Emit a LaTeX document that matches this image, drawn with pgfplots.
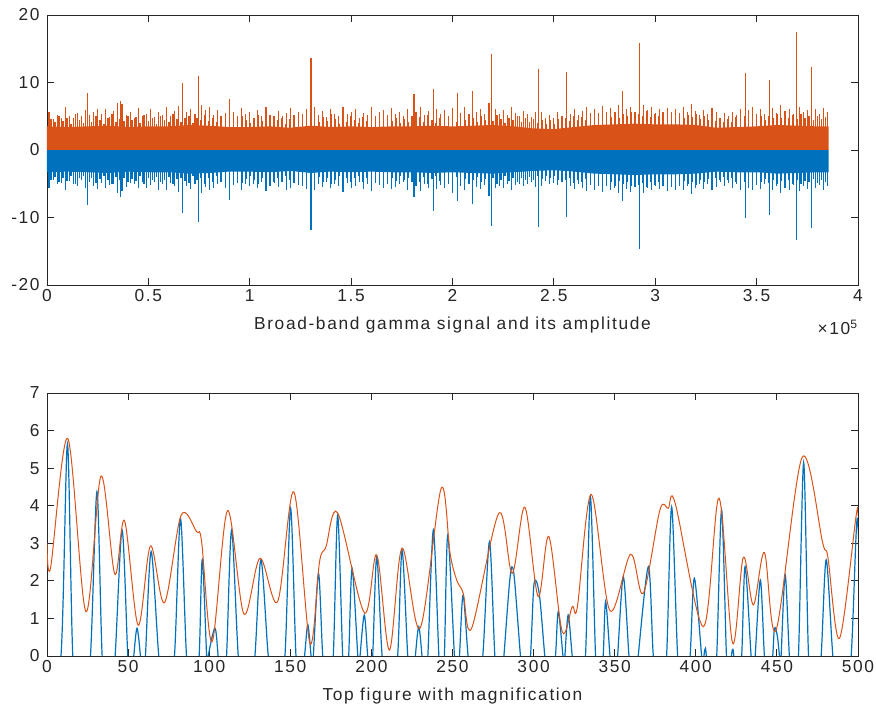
\documentclass[border=0pt]{standalone}
\usepackage{fontspec}
\setmainfont{Liberation Sans}[LetterSpace=9.5]
\usepackage{pgfplots}
\usepackage{pgfplotstable}
\pgfplotsset{compat=1.18}
\definecolor{mblue}{RGB}{0,114,189}
\definecolor{morange}{RGB}{217,83,25}
\definecolor{axgray}{RGB}{38,38,38}

% dense part of the broad-band signal (x in units of 1e5 samples)
\pgfplotstableread{
x top bot
0     3.5 -3.3
0.1   3.4 -3.2
0.2   3.5 -3.3
0.3   3.6 -3.4
0.4   3.4 -3.2
0.5   3.5 -3.3
0.6   3.5 -3.3
0.7   3.7 -3.5
0.8   3.6 -3.4
0.9   3.4 -3.2
1.0   3.4 -3.2
1.1   3.5 -3.3
1.2   3.3 -3.1
1.3   3.6 -3.4
1.4   3.4 -3.2
1.5   3.5 -3.3
1.6   3.4 -3.2
1.7   3.5 -3.3
1.8   3.5 -3.3
1.9   3.6 -3.4
2.0   3.5 -3.3
2.1   3.6 -3.4
2.2   3.7 -3.5
2.3   3.5 -3.3
2.4   3.2 -3.1
2.5   3.1 -3.0
2.6   3.4 -3.2
2.7   3.7 -3.5
2.8   3.8 -3.6
2.9   3.9 -3.7
3.0   3.8 -3.6
3.1   3.8 -3.6
3.2   3.7 -3.5
3.3   3.3 -3.2
3.4   3.4 -3.3
3.5   3.5 -3.3
3.6   3.7 -3.5
3.7   3.6 -3.4
3.8   3.5 -3.3
3.855 3.5 -3.3
}\band

% spikes of amplitude (a) and signal (s)
\pgfplotstableread{
x a s
0.01 5.7 -5.6
0.03 4.6 -4.4
0.05 5.2 -5.0
0.07 4.8 -4.9
0.09 6.4 -5.9
0.11 5.0 -4.6
0.13 4.7 -5.1
0.15 5.5 -5.3
0.17 5.0 -4.5
0.19 5.9 -5.6
0.20 8.4 -8.2
0.21 5.2 -4.8
0.23 5.6 -5.3
0.25 6.1 -5.8
0.27 5.3 -4.9
0.29 6.0 -5.6
0.31 4.9 -5.2
0.33 5.8 -5.0
0.35 6.9 -6.4
0.363 7.2 -7.0
0.37 6.8 -6.1
0.39 5.2 -5.5
0.41 5.6 -4.9
0.43 4.8 -5.1
0.45 6.2 -5.7
0.47 5.1 -4.8
0.49 5.4 -5.6
0.51 6.0 -5.2
0.53 4.9 -4.7
0.55 5.7 -5.9
0.57 5.2 -5.0
0.59 6.3 -6.0
0.61 5.0 -4.9
0.63 5.8 -5.4
0.65 6.5 -6.2
0.67 9.9 -9.4
0.69 5.6 -5.3
0.71 6.1 -5.8
0.73 5.4 -5.0
0.746 10.9 -10.7
0.76 6.6 -6.3
0.78 5.9 -5.5
0.80 6.4 -5.9
0.82 5.2 -5.6
0.84 5.9 -5.1
0.86 4.9 -4.8
0.88 5.5 -5.7
0.90 7.6 -7.4
0.92 5.6 -5.2
0.94 5.0 -4.9
0.96 6.2 -6.0
0.98 5.3 -5.1
1.00 5.7 -5.4
1.02 4.8 -5.0
1.04 5.9 -5.6
1.06 5.1 -4.7
1.08 6.4 -6.1
1.10 5.2 -5.3
1.12 4.7 -4.9
1.14 5.8 -5.5
1.16 5.0 -4.8
1.18 5.5 -5.9
1.20 6.2 -5.7
1.22 4.9 -4.6
1.24 5.6 -5.2
1.26 5.3 -5.4
1.28 6.1 -5.8
1.302 13.7 -11.9
1.32 6.3 -6.0
1.34 5.2 -5.1
1.36 5.8 -5.5
1.38 4.9 -4.8
1.40 6.0 -5.7
1.42 5.4 -5.0
1.44 5.0 -5.3
1.46 6.4 -6.2
1.48 5.3 -4.9
1.50 5.7 -5.6
1.52 6.1 -5.4
1.54 4.8 -4.7
1.56 5.5 -5.8
1.58 5.2 -5.0
1.60 6.3 -6.1
1.62 5.0 -4.9
1.64 5.6 -5.2
1.66 5.9 -5.6
1.68 4.9 -5.0
1.70 6.2 -5.8
1.72 5.3 -5.5
1.74 5.7 -5.1
1.76 5.1 -4.8
1.78 6.0 -5.9
1.81 8.3 -7.0
1.82 5.6 -5.4
1.84 6.3 -6.1
1.86 5.2 -5.0
1.88 5.8 -5.6
1.908 9.0 -9.1
1.92 6.1 -5.8
1.94 5.4 -5.2
1.96 5.9 -5.7
1.98 5.1 -5.0
2.00 6.2 -6.3
2.025 8.4 -7.5
2.04 5.5 -5.3
2.06 6.4 -5.9
2.08 5.2 -5.1
2.10 8.8 -8.0
2.12 5.7 -5.5
2.14 6.0 -5.8
2.16 5.3 -5.2
2.18 7.0 -6.8
2.194 14.2 -11.3
2.21 6.1 -5.7
2.23 5.4 -5.3
2.25 5.9 -5.6
2.27 5.2 -5.0
2.29 6.3 -6.0
2.31 5.5 -5.2
2.33 5.0 -5.1
2.35 5.8 -5.4
2.37 5.3 -5.0
2.39 4.9 -4.8
2.41 5.6 -5.5
2.424 12.0 -11.4
2.44 5.7 -5.3
2.46 4.8 -4.6
2.48 5.2 -5.0
2.50 4.7 -4.9
2.52 5.6 -5.2
2.54 5.0 -4.8
2.56 11.5 -10.0
2.58 5.4 -5.3
2.60 6.1 -5.8
2.62 5.2 -5.0
2.64 5.8 -5.6
2.66 6.3 -6.1
2.68 5.5 -5.2
2.70 6.0 -5.9
2.72 5.3 -5.4
2.74 6.5 -6.2
2.76 5.6 -5.3
2.78 6.2 -5.9
2.80 5.4 -5.6
2.82 6.7 -6.4
2.84 8.8 -7.5
2.86 6.0 -5.8
2.88 6.4 -6.2
2.90 5.7 -5.5
2.921 15.8 -14.7
2.94 6.6 -6.3
2.96 5.9 -5.7
2.98 6.3 -6.0
3.00 5.5 -5.4
3.02 6.1 -5.8
3.04 5.4 -5.3
3.06 6.2 -6.1
3.08 5.7 -5.5
3.10 6.0 -5.9
3.12 5.3 -5.2
3.14 6.4 -6.0
3.16 5.6 -5.4
3.18 6.8 -6.5
3.20 5.8 -5.6
3.22 5.2 -5.0
3.24 5.9 -5.8
3.26 5.4 -5.1
3.28 6.2 -6.0
3.30 5.6 -5.5
3.32 4.8 -4.7
3.34 5.5 -5.3
3.36 5.0 -4.9
3.38 5.7 -5.6
3.40 5.2 -5.0
3.42 6.1 -5.9
3.447 11.4 -10.1
3.46 5.9 -5.6
3.48 6.3 -6.0
3.50 5.4 -5.2
3.52 6.0 -5.8
3.54 5.3 -5.1
3.565 10.4 -9.6
3.58 6.2 -6.0
3.60 5.5 -5.4
3.62 6.6 -6.4
3.64 5.8 -5.6
3.66 6.1 -5.9
3.68 5.4 -5.2
3.697 17.5 -13.4
3.71 6.3 -6.1
3.73 5.6 -5.4
3.75 5.9 -5.8
3.771 12.3 -11.6
3.79 6.0 -5.7
3.81 5.4 -5.2
3.83 6.2 -6.0
3.85 5.6 -5.4
}\spikes

% lower ragged edge of the dense band
\pgfplotstableread{
x a s
0.02 4.6 -4.4
0.04 4.1 -4.0
0.06 5.0 -4.8
0.08 4.3 -4.1
0.10 4.8 -4.6
0.12 3.9 -3.8
0.14 5.3 -5.0
0.16 4.4 -4.2
0.18 4.0 -3.9
0.20 4.9 -4.7
0.22 4.2 -4.1
0.24 5.1 -4.9
0.26 4.5 -4.3
0.28 3.8 -3.9
0.30 4.7 -4.5
0.32 5.4 -5.1
0.34 4.1 -4.0
0.36 4.6 -4.4
0.38 4.3 -4.2
0.40 5.0 -4.8
0.42 4.4 -4.3
0.44 4.9 -4.6
0.46 4.0 -3.9
0.48 5.2 -5.0
0.50 4.3 -4.1
0.52 4.7 -4.5
0.54 3.9 -4.0
0.56 5.0 -4.7
0.58 4.5 -4.4
0.60 4.1 -4.0
0.62 5.3 -5.1
0.64 4.6 -4.3
0.66 4.2 -4.1
0.68 4.8 -4.6
0.70 5.1 -4.9
0.72 4.0 -3.9
0.74 4.7 -4.5
0.76 4.4 -4.2
0.78 5.2 -5.0
0.80 4.3 -4.1
0.82 4.8 -4.7
0.84 4.1 -3.9
0.86 5.0 -4.8
0.88 4.5 -4.3
0.90 3.9 -3.8
0.92 4.9 -4.6
0.94 4.2 -4.1
0.96 5.1 -4.9
0.98 4.4 -4.3
1.00 4.0 -3.9
1.02 4.7 -4.5
1.04 5.2 -5.0
1.06 4.3 -4.2
1.08 4.6 -4.4
1.10 4.1 -4.0
1.12 5.0 -4.8
1.14 4.4 -4.2
1.16 4.8 -4.7
1.18 3.9 -3.9
1.20 4.6 -4.4
1.22 5.2 -4.9
1.24 4.2 -4.1
1.26 4.7 -4.5
1.28 4.0 -3.9
1.30 5.0 -4.8
1.32 4.5 -4.3
1.34 4.1 -4.0
1.36 4.9 -4.7
1.38 4.3 -4.1
1.40 5.3 -5.0
1.42 4.6 -4.4
1.44 3.9 -3.8
1.46 4.8 -4.6
1.48 4.2 -4.1
1.50 5.0 -4.8
1.52 4.4 -4.2
1.54 4.0 -3.9
1.56 4.9 -4.7
1.58 4.3 -4.2
1.60 5.1 -4.9
1.62 4.5 -4.3
1.64 4.1 -4.0
1.66 4.7 -4.5
1.68 5.2 -5.0
1.70 4.3 -4.1
1.72 4.8 -4.6
1.74 4.0 -3.9
1.76 4.6 -4.4
1.78 4.2 -4.1
1.80 5.0 -4.8
1.82 4.4 -4.3
1.84 4.9 -4.7
1.86 4.1 -4.0
1.88 5.2 -5.0
1.90 4.5 -4.3
1.92 4.0 -3.9
1.94 4.8 -4.6
1.96 4.3 -4.2
1.98 5.1 -4.9
2.00 4.6 -4.4
2.02 4.2 -4.0
2.04 4.9 -4.7
2.06 4.4 -4.3
2.08 5.3 -5.1
2.10 4.7 -4.5
2.12 4.1 -4.0
2.14 5.0 -4.8
2.16 4.5 -4.3
2.18 4.9 -4.7
2.20 4.3 -4.2
2.22 5.2 -5.0
2.24 4.6 -4.4
2.26 4.0 -3.9
2.28 4.8 -4.6
2.30 4.4 -4.2
2.32 5.0 -4.8
2.34 4.2 -4.1
2.36 4.7 -4.5
2.38 4.1 -4.0
2.40 4.6 -4.4
2.42 4.0 -3.9
2.44 4.5 -4.3
2.46 3.8 -3.8
2.48 4.4 -4.2
2.50 3.9 -3.8
2.52 4.6 -4.4
2.54 4.1 -4.0
2.56 4.7 -4.5
2.58 4.3 -4.2
2.60 5.1 -4.9
2.62 4.5 -4.4
2.64 4.9 -4.7
2.66 4.4 -4.3
2.68 5.3 -5.1
2.70 4.8 -4.6
2.72 5.5 -5.2
2.74 4.7 -4.5
2.76 5.2 -5.0
2.78 4.9 -4.7
2.80 5.6 -5.3
2.82 4.8 -4.6
2.84 5.3 -5.1
2.86 5.0 -4.8
2.88 5.7 -5.4
2.90 4.9 -4.7
2.92 5.4 -5.2
2.94 5.1 -4.9
2.96 5.8 -5.5
2.98 4.9 -4.8
3.00 5.4 -5.2
3.02 5.0 -4.8
3.04 5.6 -5.4
3.06 4.8 -4.6
3.08 5.3 -5.1
3.10 5.0 -4.8
3.12 5.5 -5.3
3.14 4.8 -4.6
3.16 5.2 -5.0
3.18 4.9 -4.7
3.20 5.4 -5.2
3.22 4.6 -4.5
3.24 5.0 -4.8
3.26 4.4 -4.3
3.28 4.9 -4.7
3.30 4.3 -4.2
3.32 4.7 -4.5
3.34 4.1 -4.0
3.36 4.6 -4.4
3.38 4.2 -4.1
3.40 4.9 -4.7
3.42 4.4 -4.3
3.44 5.0 -4.8
3.46 4.5 -4.3
3.48 5.2 -5.0
3.50 4.6 -4.4
3.52 5.0 -4.8
3.54 4.4 -4.3
3.56 5.1 -4.9
3.58 4.7 -4.5
3.60 5.3 -5.1
3.62 4.8 -4.6
3.64 5.4 -5.2
3.66 4.7 -4.5
3.68 5.2 -5.0
3.70 4.6 -4.4
3.72 5.3 -5.1
3.74 4.8 -4.6
3.76 5.0 -4.8
3.78 4.5 -4.3
3.80 5.1 -4.9
3.82 4.6 -4.4
3.84 4.9 -4.7
}\spikesb

\pgfplotsset{
  mstyle/.style={
    scale only axis, anchor=south west,
    axis line style={axgray, line width=0.6pt},
    tick style={axgray, line width=0.6pt},
    major tick length=5.6pt, tick align=inside,
    tick pos=both, xticklabel pos=lower, yticklabel pos=left,
    ticklabel style={font=\fontsize{13}{15}\selectfont, text=axgray},
    yticklabel style={xshift=-2pt},
    label style={font=\fontsize{13}{15}\selectfont, text=axgray},
    xlabel style={yshift=-4pt},
    /pgf/number format/assume math mode=true,
    scaled ticks=false,
  },
}

\begin{document}
\begin{tikzpicture}
\useasboundingbox (0,0) rectangle (657pt,531pt);

\begin{axis}[mstyle, name=top,
  at={(35.25pt,317.25pt)}, width=608.25pt, height=202.5pt,
  xmin=0, xmax=4, ymin=-20, ymax=20,
  xtick={0,0.5,...,4}, ytick={-20,-10,0,10,20},
  xlabel={Broad-band gamma signal and its amplitude}]
  \addplot[fill=mblue, draw=none] table[x=x, y=bot]{\band} \closedcycle;
  \addplot[ycomb, mblue, line width=1.3pt, mark=none] table[x=x, y=s]{\spikesb};
  \addplot[ycomb, mblue, line width=0.8pt, mark=none] table[x=x, y=s]{\spikes};
  \addplot[fill=morange, draw=none] table[x=x, y=top]{\band} \closedcycle;
  \addplot[ycomb, morange, line width=1.3pt, mark=none] table[x=x, y=a]{\spikesb};
  \addplot[ycomb, morange, line width=0.8pt, mark=none] table[x=x, y=a]{\spikes};
\end{axis}
\node[anchor=north east, text=axgray, font=\fontsize{13}{15}\selectfont, inner sep=0pt]
  at ([yshift=-26pt]top.south east) {×10\textsuperscript{5}};

\begin{axis}[mstyle,
  at={(35.25pt,39pt)}, width=608.25pt, height=197.25pt,
  xmin=0, xmax=500, ymin=0, ymax=7,
  xtick={0,50,...,500}, ytick={0,1,...,7},
  xlabel={Top figure with magnification}]
  \addplot[mblue, line width=0.9pt, smooth, tension=0.5, mark=none] coordinates {
    (0,-1.5)
    (8.6,0) (12.6,5.64) (15.9,0) (21,-2.5)
    (26.8,0) (30.8,4.37) (34.0,0) (38,-2)
    (42.0,0) (46.3,3.35) (49.8,0) (51.6,-1)
    (53.5,0) (55.5,0.74) (57.6,0) (59.2,-1)
    (60.7,0) (64.2,2.78) (68.9,0) (73.8,-2)
    (78.6,0) (82.3,3.66) (86.0,0) (90,-2)
    (93.8,0) (95.7,2.56) (98.4,0) (98.9,-0.4)
    (99.4,0) (103.5,0.74) (105.5,0) (108,-1.5)
    (110.7,0) (113.8,3.35) (117.9,0) (123,-2.5)
    (128.2,0) (131.9,2.56) (136.4,0) (141.5,-2)
    (146.7,0) (150.2,3.93) (153.5,0) (156.2,-1)
    (158.8,0) (160.8,0.83) (162.8,0) (163.5,-0.3)
    (164.2,0) (167.4,2.2) (170,0) (173.2,-1.5)
    (176.5,0) (179.2,3.75) (182.3,0) (184.2,-1)
    (186,0) (188.1,2.33) (191.6,0) (192.3,-0.4)
    (193,0) (195.6,1.09) (197.7,0) (199.2,-0.8)
    (200.8,0) (203.3,2.64) (206.6,0) (211.4,-2)
    (216.2,0) (218.9,2.82) (222.4,0) (224.7,-1.2)
    (227.1,0) (229.2,0.78) (231.2,0) (233,-1)
    (234.8,0) (238.2,3.35) (241.6,0) (243.3,-1)
    (245,0) (247.1,3.22) (251.2,0) (252.7,-0.8)
    (254.3,0) (256.5,1.62) (259.6,0) (264,-2)
    (268.7,0) (272.8,3.04) (276.1,0) (278.9,-1.5)
    (281.7,0) (285.5,2.1) (287.8,2.2) (291.9,0) (295,-1.5)
    (298.1,0) (300.3,1.93) (303.5,1.65) (306.9,0) (310.2,-1.5)
    (313.5,0) (315.2,1.18) (318.1,0) (318.7,-0.3)
    (319.3,0) (321.3,1.09) (323.8,0) (328,-2)
    (332,0) (335.0,4.24) (338.2,0) (340.5,-1.2)
    (342.9,0) (344.4,1.45) (347.1,0) (349.5,-1.2)
    (351.8,0) (355.3,2.11) (358.8,0) (361.7,-1.5)
    (364.5,0) (370.8,2.38) (373.8,0) (378,-2)
    (382,0) (385.1,3.97) (388.8,0) (392.6,-2)
    (396.5,0) (399.1,2.07) (403.6,0) (404.3,-0.2)
    (405.0,0) (405.7,0.18) (406.5,0) (409.7,-2)
    (412.9,0) (415.9,3.89) (418.9,0) (420.5,-0.8)
    (422.0,0) (422.7,0.18) (423.4,0) (425.8,-1.5)
    (428.3,0) (430.4,2.38) (434.1,0) (435.3,-0.6)
    (436.6,0) (439.8,2.02) (442.3,0) (444.8,-1.2)
    (447.4,0) (448.5,0.74) (450.2,0.55) (451.6,0) (452.1,-0.2)
    (452.6,0) (455.1,2.16) (457.7,0) (460.5,-1.5)
    (463.3,0) (466.5,5.15) (469.5,0) (473.4,-2.2)
    (477.3,0) (480.4,2.56) (484.5,0) (490,-2.5)
    (495.8,0) (499.5,3.66) (502,1)
  };
  \addplot[morange, line width=0.75pt, smooth, tension=0.55, mark=none] coordinates {
    (0,3.0) (2.2,2.35) (12.8,5.79) (24,1.18) (33.3,4.79) (41.8,2.18)
    (47.8,3.6) (56.2,0.82) (63.8,2.93) (72.4,1.42) (82.7,3.75) (92.2,3.31)
    (95.3,3.05) (101.8,0.38) (111.3,3.87) (121.4,1.12) (131.3,2.6) (142.2,1.45)
    (152.2,4.37) (162.1,0.34) (168,2.5) (172,2.91) (179.2,3.81) (195.7,1.15)
    (203.3,2.69) (211.1,0.16) (218.9,2.87) (230,0.74) (243,4.46) (248.5,2.73)
    (252.6,2.02) (256.6,1.67) (261.8,0.74) (278.6,3.8) (286.8,2.2) (294.6,3.96)
    (302.8,1.58) (309.4,3.18) (317.6,0.65) (323.8,1.31) (327,1.31) (335.5,4.3)
    (347,1.21) (359.8,2.71) (367.6,1.67) (377.9,3.89) (383,3.93) (387.2,4.08)
    (404.7,0.78) (414.3,4.2) (422.7,0.34) (429.3,2.63) (435.5,1.36) (442.3,2.75)
    (449.5,0.69) (465.6,5.29) (478.3,3.0) (481.4,2.64) (488.6,0.47) (498.9,3.75)
    (500,3.72)
  };
\end{axis}
\end{tikzpicture}
\end{document}
